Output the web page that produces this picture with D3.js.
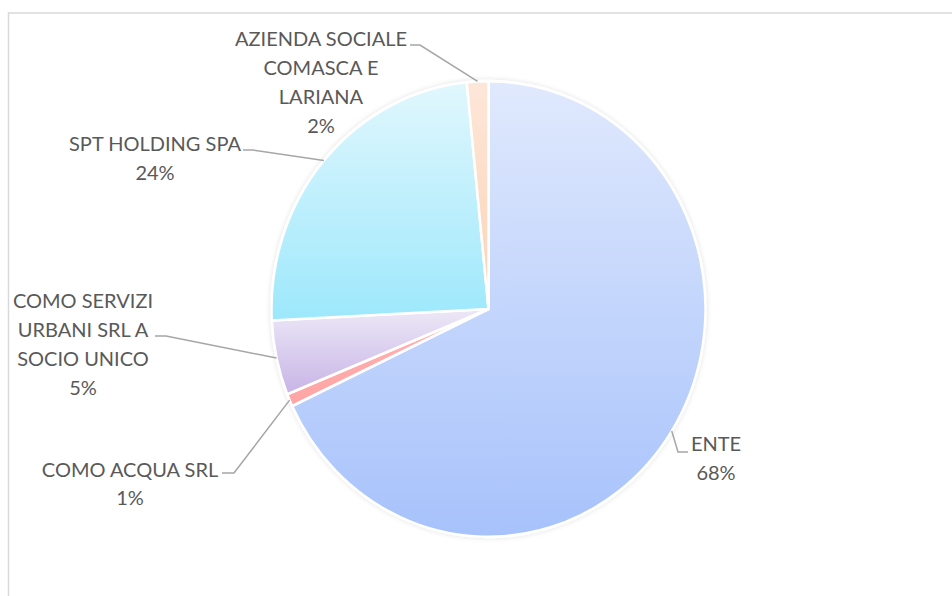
<!DOCTYPE html>
<html lang="en">
<head>
  <meta charset="UTF-8">
  <title>Pie</title>
  <script src="https://d3js.org/d3.v7.min.js"></script>
  <style>
    body { margin: 0; background: #fff; font-family: Lato, sans-serif; }
    .lbl { font-size: 20px; fill: #595959; }
  </style>
</head>
<body>
  <svg width="952" height="596"></svg>
  <script>
    // data
    const categories = ["ENTE", "COMO ACQUA SRL", "COMO SERVIZI URBANI SRL A SOCIO UNICO", "SPT HOLDING SPA", "AZIENDA SOCIALE COMASCA E LARIANA"];
    const values = [68.0, 0.9, 5.3, 24.2, 1.6];
    const pctLabels = ["68%", "1%", "5%", "24%", "2%"];
    const nameLines = [
      ["ENTE"],
      ["COMO ACQUA SRL"],
      ["COMO SERVIZI", "URBANI SRL A", "SOCIO UNICO"],
      ["SPT HOLDING SPA"],
      ["AZIENDA SOCIALE", "COMASCA E", "LARIANA"]
    ];
    const topColors = ["#e0e9fd", "#ffb4b4", "#ede8f7", "#e1f7fd", "#fde7d9"];
    const bottomColors = ["#a7c2fb", "#ffa4a4", "#c7b4e6", "#9de8fc", "#fdd2b6"];

    // label layout: text center x, first baseline, leader start and elbow
    const layout = [
      { x: 716, y: 451, lh: 29, start: [688, 452], elbow: [678, 452] },
      { x: 130, y: 477, lh: 28, start: [222, 473], elbow: [234, 473] },
      { x: 83, y: 308, lh: 29, start: [155, 336], elbow: [166, 336] },
      { x: 155, y: 151, lh: 29, start: [243, 150], elbow: [253, 150] },
      { x: 321, y: 46, lh: 29, start: [410, 45], elbow: [420, 45] }
    ];

    const svg = d3.select("svg");
    const cx = 488.5, cy = 309, r = 217, sy = 1.05;

    // chart area border
    svg.append("rect")
      .attr("x", 8.5).attr("y", 13)
      .attr("width", 960).attr("height", 600)
      .attr("fill", "none")
      .attr("stroke", "#d9d9d9")
      .attr("stroke-width", 1.5);

    const defs = svg.append("defs");
    values.forEach((v, i) => {
      const g = defs.append("linearGradient")
        .attr("id", "grad" + i)
        .attr("x1", 0).attr("y1", 0).attr("x2", 0).attr("y2", 1);
      g.append("stop").attr("offset", "0%").attr("stop-color", topColors[i]);
      g.append("stop").attr("offset", "100%").attr("stop-color", bottomColors[i]);
    });
    const f = defs.append("filter").attr("id", "glow")
      .attr("x", "-10%").attr("y", "-10%").attr("width", "120%").attr("height", "120%");
    f.append("feDropShadow").attr("dx", 0).attr("dy", 0)
      .attr("stdDeviation", 2.5).attr("flood-color", "#000").attr("flood-opacity", 0.12);

    const pie = d3.pie().sort(null).value(d => d);
    const arcs = pie(values);
    const arc = d3.arc().innerRadius(0).outerRadius(r);

    const g = svg.append("g")
      .attr("transform", `translate(${cx},${cy}) scale(1,${sy})`)
      .attr("filter", "url(#glow)");

    g.selectAll("path")
      .data(arcs)
      .enter()
      .append("path")
      .attr("d", arc)
      .attr("fill", (d, i) => `url(#grad${i})`)
      .attr("stroke", "#fff")
      .attr("stroke-width", 2.5)
      .attr("stroke-linejoin", "round");

    // leader lines
    arcs.forEach((d, i) => {
      const a = (d.startAngle + d.endAngle) / 2;
      const end = [cx + r * Math.sin(a), cy - r * sy * Math.cos(a)];
      const L = layout[i];
      svg.append("polyline")
        .attr("points", [L.start, L.elbow, end].map(p => p.join(",")).join(" "))
        .attr("fill", "none")
        .attr("stroke", "#a6a6a6")
        .attr("stroke-width", 1.5);
    });

    // labels
    arcs.forEach((d, i) => {
      const L = layout[i];
      const lines = nameLines[i].concat([pctLabels[i]]);
      const t = svg.append("text")
        .attr("class", "lbl")
        .attr("text-anchor", "middle");
      lines.forEach((s, k) => {
        t.append("tspan")
          .attr("x", L.x)
          .attr("y", L.y + k * L.lh)
          .text(s);
      });
    });
  </script>
</body>
</html>
